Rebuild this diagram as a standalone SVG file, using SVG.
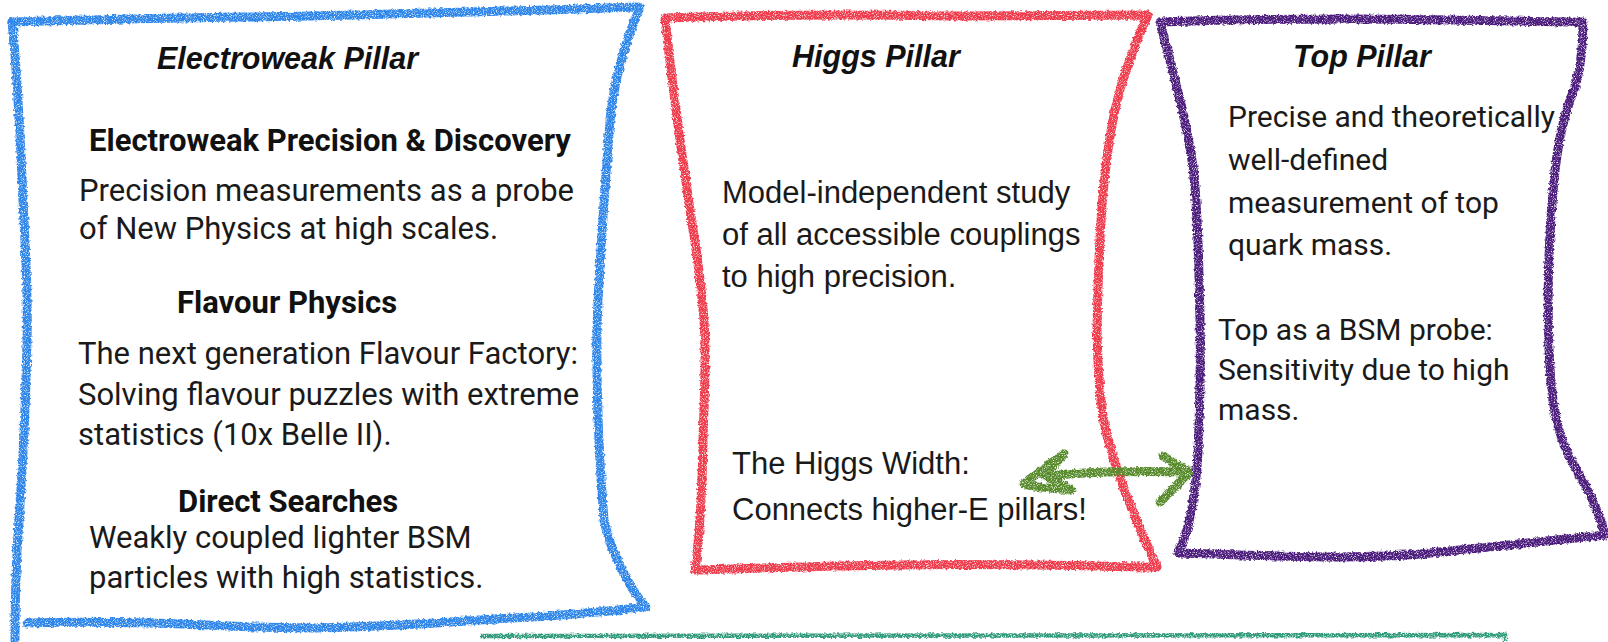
<svg xmlns="http://www.w3.org/2000/svg" width="1608" height="642" viewBox="0 0 1608 642">
<style>
.crayon{fill:none;stroke-width:9;stroke-linecap:round;stroke-linejoin:round}
.blue{stroke:#2f86ea}
.red{stroke:#ef3a4b}
.purple{stroke:#4c1a7c}
.green{stroke:#568a2c}
.teal{fill:none;stroke:#2e9a7a;stroke-width:4.5}
.title{font-family:"Liberation Sans",Arial,sans-serif;font-weight:bold;font-style:italic;font-size:30.5px;fill:#111}
.head{font-family:Roboto,"Liberation Sans",sans-serif;font-weight:bold;font-size:31px;fill:#111}
.body{font-family:Roboto,"Liberation Sans",sans-serif;font-size:31px;fill:#1a1a1a}
.body30{font-family:Roboto,"Liberation Sans",sans-serif;font-size:30px;fill:#1a1a1a}
.arial{font-family:"Liberation Sans",Arial,sans-serif;font-size:31px;fill:#1a1a1a}
</style>
<defs>
<filter id="crayon" filterUnits="userSpaceOnUse" x="0" y="0" width="1608" height="642">
<feTurbulence type="fractalNoise" baseFrequency="0.35" numOctaves="2" seed="2" result="warp"/>
<feDisplacementMap in="SourceGraphic" in2="warp" scale="4" xChannelSelector="R" yChannelSelector="G" result="wob"/>
<feTurbulence type="fractalNoise" baseFrequency="0.9" numOctaves="2" seed="5" result="grain"/>
<feColorMatrix in="grain" type="matrix" values="0 0 0 0 0  0 0 0 0 0  0 0 0 0 0  0 0 0 -3 2.5" result="mask"/>
<feComposite in="wob" in2="mask" operator="in"/>
</filter>
</defs>
<rect width="1608" height="642" fill="#ffffff"/>

<g id="electroweak-pillar">
<path class="crayon blue" filter="url(#crayon)" d="M12,22 C80,20 150,18 250,17 C350,16 480,12 640,7 C626,40 614,80 610,120 C604,200 598,280 597,330 C596,400 600,470 604,520 C610,550 630,590 646,607 C610,611 560,616 513,618 C460,621 400,627 308,628 C250,628 200,624 150,623 C100,622 60,622 27,623"/>
<path class="crayon blue" filter="url(#crayon)" d="M12,22 C16,60 20,130 23,200 C26,260 28,300 27,340 C26,400 23,460 19,520 C16,560 15,600 15,640"/>
<text class="title" x="157" y="69">Electroweak Pillar</text>
<text class="head" x="89" y="151">Electroweak Precision &amp; Discovery</text>
<text class="body" x="79" y="201">Precision measurements as a probe</text>
<text class="body" x="79" y="239">of New Physics at high scales.</text>
<text class="head" x="177" y="313">Flavour Physics</text>
<text class="body" x="78" y="364">The next generation Flavour Factory:</text>
<text class="body" x="78" y="405">Solving flavour puzzles with extreme</text>
<text class="body" x="78" y="445">statistics (10x Belle II).</text>
<text class="head" x="178" y="512">Direct Searches</text>
<text class="body" x="89" y="548">Weakly coupled lighter BSM</text>
<text class="body" x="89" y="588">particles with high statistics.</text>
</g>

<g id="higgs-pillar">
<path class="crayon red" filter="url(#crayon)" d="M665,18 C750,15 850,14 950,16 C1030,16 1100,15 1148,15 C1132,50 1118,90 1112,125 C1104,170 1099,220 1097,330 C1098,380 1101,410 1106,432 C1116,470 1135,520 1157,567 C1080,566 1000,563 900,565 C820,566 760,568 695,570 C699,540 702,500 703,440 C705,380 706,350 704,320 C700,270 695,240 690,210 C683,160 675,110 665,18 Z"/>
<text class="title" x="792" y="67">Higgs Pillar</text>
<text class="arial" x="722" y="203">Model-independent study</text>
<text class="arial" x="722" y="245">of all accessible couplings</text>
<text class="arial" x="722" y="287">to high precision.</text>
<text class="arial" x="732" y="474">The Higgs Width:</text>
<text class="arial" x="732" y="520">Connects higher-E pillars!</text>
</g>

<g id="top-pillar">
<path class="crayon purple" filter="url(#crayon)" d="M1160,22 C1250,19 1350,18 1450,20 C1510,21 1550,22 1583,22 C1583,50 1580,75 1572,95 C1564,115 1558,140 1554,180 C1549,230 1547,290 1549,350 C1551,400 1556,430 1570,458 C1582,480 1598,505 1605,535 C1560,540 1500,546 1430,553 C1360,560 1280,556 1178,553 C1188,535 1195,500 1198,453 C1200,400 1201,360 1200,320 C1199,260 1197,200 1193,167 C1188,130 1178,90 1160,22 Z"/>
<text class="title" x="1293" y="67">Top Pillar</text>
<text class="body30" x="1228" y="127">Precise and theoretically</text>
<text class="body30" x="1228" y="170">well-defined</text>
<text class="body30" x="1228" y="213">measurement of top</text>
<text class="body30" x="1228" y="255">quark mass.</text>
<text class="body30" x="1218" y="340">Top as a BSM probe:</text>
<text class="body30" x="1218" y="380">Sensitivity due to high</text>
<text class="body30" x="1218" y="420">mass.</text>
</g>

<g id="bottom-box">
<path class="teal" filter="url(#crayon)" d="M480,636 L1505,635 L1505,642"/>
</g>

<g id="connectors">
<path class="crayon green" filter="url(#crayon)" d="M1064,454 C1050,464 1036,474 1024,484 C1040,488 1056,489 1072,490 C1062,484 1052,478 1044,475 C1052,468 1058,460 1064,454 Z M1046,476 C1095,471 1140,471 1188,472 M1163,456 C1172,462 1180,467 1189,472 C1180,482 1170,492 1160,502"/>
</g>
</svg>
